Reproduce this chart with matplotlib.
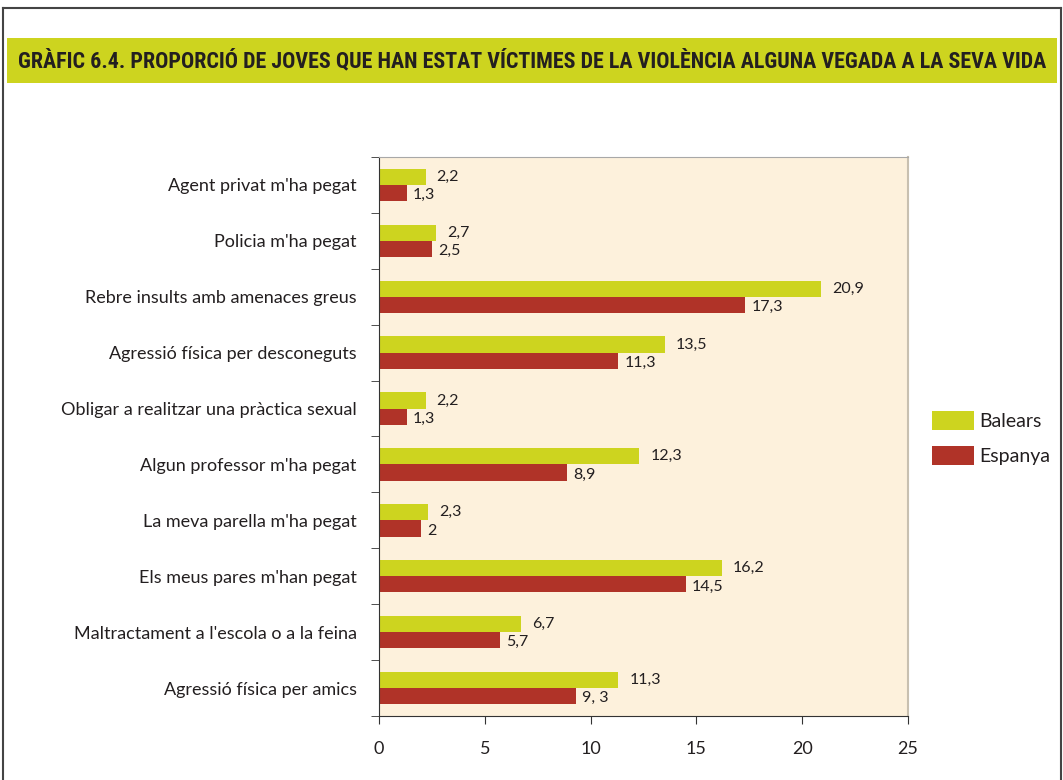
import numpy as np
import matplotlib.pyplot as plt
from matplotlib.lines import Line2D
from matplotlib.patches import Rectangle

plt.rcParams['font.family'] = ['Lato', 'DejaVu Sans']

# --- Data ---
categories = [
    "Agent privat m'ha pegat",
    "Policia m'ha pegat",
    "Rebre insults amb amenaces greus",
    "Agressió física per desconeguts",
    "Obligar a realitzar una pràctica sexual",
    "Algun professor m'ha pegat",
    "La meva parella m'ha pegat",
    "Els meus pares m'han pegat",
    "Maltractament a l'escola o a la feina",
    "Agressió física per amics",
]
balears = [2.2, 2.7, 20.9, 13.5, 2.2, 12.3, 2.3, 16.2, 6.7, 11.3]
espanya = [1.3, 2.5, 17.3, 11.3, 1.3, 8.9, 2.0, 14.5, 5.7, 9.3]
balears_labels = ['2,2', '2,7', '20,9', '13,5', '2,2', '12,3', '2,3', '16,2', '6,7', '11,3']
espanya_labels = ['1,3', '2,5', '17,3', '11,3', '1,3', '8,9', '2', '14,5', '5,7', '9, 3']
x_ticks = [0, 5, 10, 15, 20, 25]

title = 'GRÀFIC 6.4. PROPORCIÓ DE JOVES QUE HAN ESTAT VÍCTIMES DE LA VIOLÈNCIA ALGUNA VEGADA A LA SEVA VIDA'

# Colors
c_bal = '#cdd41f'
c_esp = '#b03328'
c_bg = '#fdf1dc'
c_text = '#231f20'

W, H = 1063, 780
fig = plt.figure(figsize=(W / 100, H / 100), dpi=100)

# outer frame (no bottom edge)
for xs, ys in [([3, 3], [8, H]), ([3, 1061], [8, 8]), ([1061, 1061], [8, H])]:
    fig.add_artist(Line2D(np.array(xs) / W, 1 - np.array(ys) / H,
                          color='#444444', lw=1.5, transform=fig.transFigure))

# title banner
fig.add_artist(Rectangle((7 / W, 1 - 83 / H), (1057 - 7) / W, 45 / H,
                         facecolor=c_bal, edgecolor='none', transform=fig.transFigure))
t = fig.text(532 / W, 1 - 61 / H, title, ha='center', va='center', fontsize=15,
             fontweight='bold', color=c_text,
             family=['Liberation Sans Narrow', 'Roboto Condensed', 'DejaVu Sans'])
# scale the title so it spans the banner like the original
renderer = fig.canvas.get_renderer()
w = t.get_window_extent(renderer).width
t.set_fontsize(15 * 1036 / w)

ax = fig.add_axes([379 / W, 1 - 716 / H, (908 - 379) / W, (716 - 157) / H])
ax.set_facecolor(c_bg)

n = len(categories)
y = np.arange(n)
h = 0.29
ax.barh(y - h / 2, balears, height=h, color=c_bal, label='Balears')
ax.barh(y + h / 2, espanya, height=h, color=c_esp, label='Espanya')

for i in range(n):
    ax.annotate(balears_labels[i], (balears[i], y[i] - h / 2), xytext=(8, 0),
                textcoords='offset points', va='center', ha='left', fontsize=11.5, color=c_text)
    ax.annotate(espanya_labels[i], (espanya[i], y[i] + h / 2), xytext=(4.5, -1.5),
                textcoords='offset points', va='center', ha='left', fontsize=11.5, color=c_text)

ax.set_ylim(n - 0.5, -0.5)
ax.set_xlim(0, 25)
ax.set_yticks(y)
ax.set_yticklabels(categories, fontsize=13, color=c_text)
ax.set_yticks(np.arange(n + 1) - 0.5, minor=True)
ax.tick_params(axis='y', which='major', length=0, pad=16)
ax.tick_params(axis='y', which='minor', length=6, color='#333333')
ax.set_xticks(x_ticks)
ax.tick_params(axis='x', length=6, labelsize=13, labelcolor=c_text, pad=12, color='#333333')

ax.spines['left'].set_color('#333333')
ax.spines['bottom'].set_color('#333333')
ax.spines['top'].set_color('#a8a8a8')
ax.spines['right'].set_color('#c8c0b0')
ax.spines['right'].set_linewidth(1.5)

fig.legend(*ax.get_legend_handles_labels(), loc='center left',
           bbox_to_anchor=(932 / W, 1 - 438 / H), bbox_transform=fig.transFigure,
           frameon=False, borderpad=0, borderaxespad=0,
           fontsize=14, handlelength=2.16, handleheight=1.13, handletextpad=0.26,
           labelspacing=0.8, labelcolor=c_text)

plt.savefig('out.png', dpi=100)
